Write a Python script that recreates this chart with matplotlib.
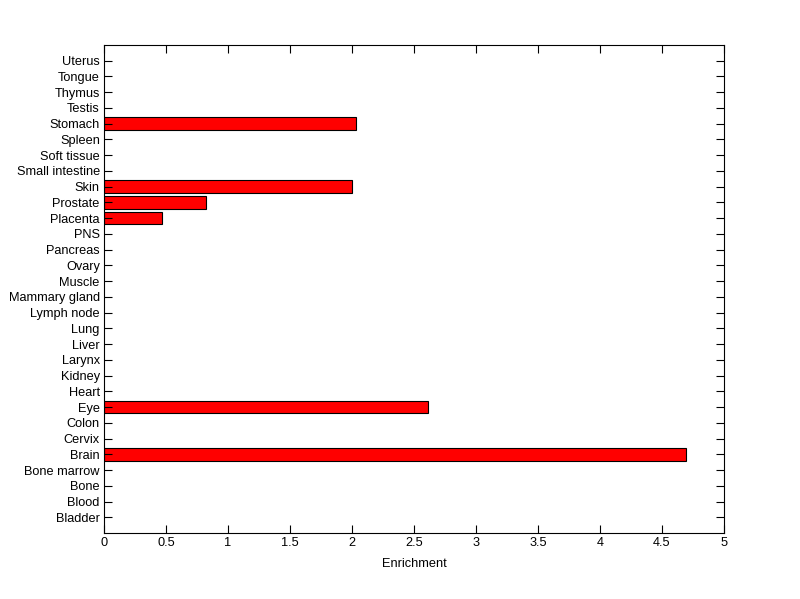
import matplotlib
matplotlib.use('Agg')
import matplotlib.pyplot as plt

tissues = ['Bladder', 'Blood', 'Bone', 'Bone marrow', 'Brain', 'Cervix', 'Colon', 'Eye',
           'Heart', 'Kidney', 'Larynx', 'Liver', 'Lung', 'Lymph node', 'Mammary gland',
           'Muscle', 'Ovary', 'Pancreas', 'PNS', 'Placenta', 'Prostate', 'Skin',
           'Small intestine', 'Soft tissue', 'Spleen', 'Stomach', 'Testis', 'Thymus',
           'Tongue', 'Uterus']
enrichment = [0, 0, 0, 0, 4.69, 0, 0, 2.61,
              0, 0, 0, 0, 0, 0, 0,
              0, 0, 0, 0, 0.465, 0.825, 2.0,
              0, 0, 0, 2.03, 0, 0,
              0, 0]
xticks = [0, 0.5, 1, 1.5, 2, 2.5, 3, 3.5, 4, 4.5, 5]

plt.rcParams['font.family'] = ['Liberation Sans', 'DejaVu Sans']
plt.rcParams['font.size'] = 9.2

fig = plt.figure(figsize=(8, 5.99), dpi=100)
ax = fig.add_axes([0.13, 0.11, 0.775, 0.815])

pos = list(range(1, len(tissues) + 1))
vals = [v if v > 0 else float('nan') for v in enrichment]
ax.barh(pos, vals, height=0.8, color='#ff0000', edgecolor='black', linewidth=0.8)

ax.set_xlim(0, 5)
ax.set_ylim(0, len(tissues) + 1)
ax.set_yticks(pos)
ax.set_yticklabels(tissues)
ax.set_xticks(xticks)
ax.set_xticklabels(['0', '0.5', '1', '1.5', '2', '2.5', '3', '3.5', '4', '4.5', '5'])
ax.set_xlabel('Enrichment', labelpad=6)

ax.tick_params(direction='in', length=6, width=0.8, top=True, right=True, pad=3)
for s in ax.spines.values():
    s.set_linewidth(0.8)

fig.savefig('out.png', dpi=100)
